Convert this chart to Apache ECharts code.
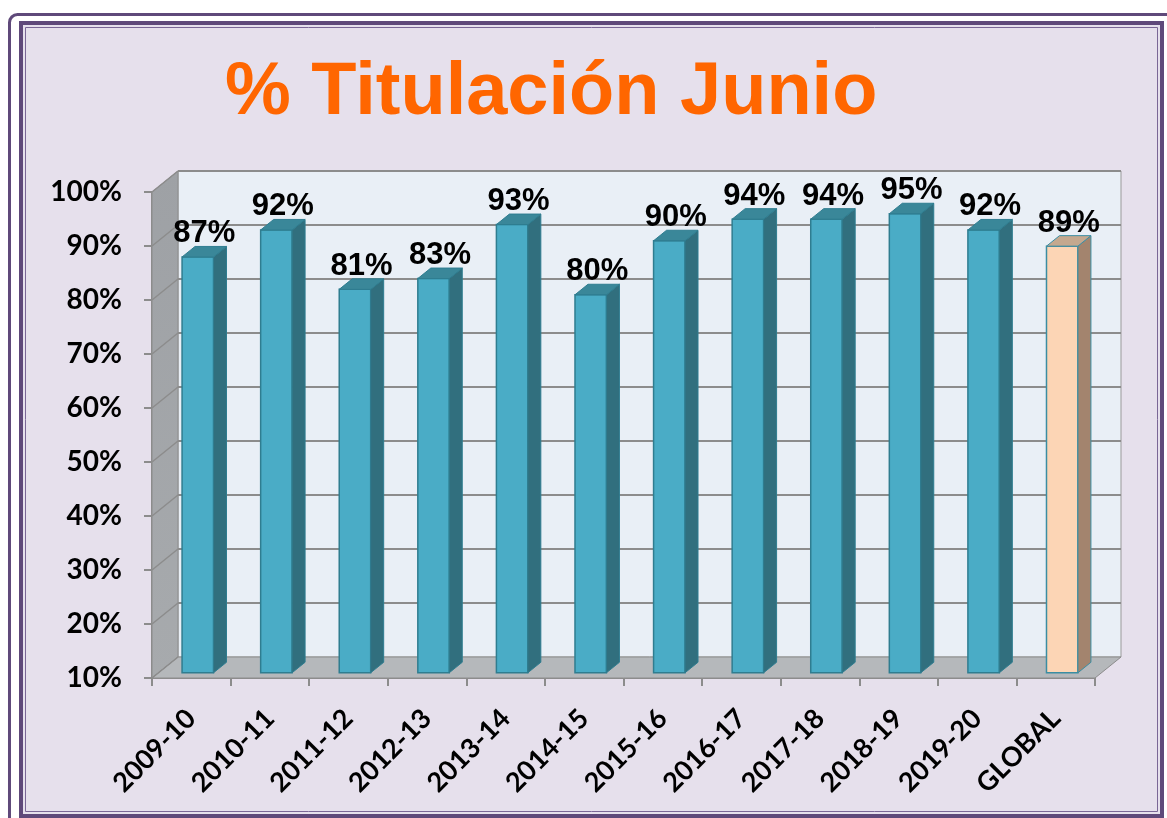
<!DOCTYPE html>
<html>
<head>
<meta charset="utf-8">
<title>% Titulación Junio</title>
<script src="https://cdn.jsdelivr.net/npm/echarts@6/dist/echarts.min.js"></script>
<style>
    html, body { margin: 0; padding: 0; background: #ffffff; }
    #chart { width: 1167px; height: 818px; }
</style>
</head>
<body>
<div id="chart"></div>
<script>
// datos
const cursos = ['2009-10', '2010-11', '2011-12', '2012-13', '2013-14', '2014-15', '2015-16', '2016-17', '2017-18', '2018-19', '2019-20', 'GLOBAL'];
const titulacion = [87, 92, 81, 83, 93, 80, 90, 94, 94, 95, 92, 89];
const ticksY = [10, 20, 30, 40, 50, 60, 70, 80, 90, 100];

// profundidad del efecto 3D
const DX = 26, DY = -21;

const chart = echarts.init(document.getElementById('chart'));

// paredes, suelo y rejilla
function renderWalls(params, api) {
    const cs = params.coordSys;
    const x0 = cs.x, x1 = cs.x + cs.width;
    const yb = api.coord([0, ticksY[0]])[1];
    const yt = api.coord([0, ticksY[ticksY.length - 1]])[1];
    const children = [];
    // pared del fondo
    children.push({
        type: 'rect',
        shape: {x: x0 + DX, y: yt + DY, width: x1 - x0, height: yb - yt},
        style: {fill: '#e9eff6', stroke: '#9a9a9a', lineWidth: 1}
    });
    // pared lateral
    children.push({
        type: 'polygon',
        shape: {points: [[x0, yt], [x0 + DX, yt + DY], [x0 + DX, yb + DY], [x0, yb]]},
        style: {
            fill: new echarts.graphic.LinearGradient(0, 0, 0, 1, [
                {offset: 0, color: '#9ea1a5'},
                {offset: 1, color: '#a7aaad'}
            ]),
            stroke: '#8c8c8c', lineWidth: 1
        }
    });
    // suelo
    children.push({
        type: 'polygon',
        shape: {points: [[x0, yb], [x0 + DX, yb + DY], [x1 + DX, yb + DY], [x1, yb]]},
        style: {fill: '#b5b8bb', stroke: '#8c8c8c', lineWidth: 1}
    });
    // líneas de división
    ticksY.forEach(function (v) {
        const y = api.coord([0, v])[1];
        if (v > ticksY[0]) {
            children.push({
                type: 'line',
                shape: {x1: x0 + DX, y1: y + DY, x2: x1 + DX, y2: y + DY},
                style: {stroke: '#8c8c8c', lineWidth: 2}
            });
        }
        children.push({
            type: 'line',
            shape: {x1: x0, y1: y, x2: x0 + DX, y2: y + DY},
            style: {stroke: '#8c8c8c', lineWidth: 1.5}
        });
    });
    return {type: 'group', children: children};
}

// columnas 3D
function renderBar(params, api) {
    const idx = api.value(0);
    const val = api.value(1);
    const p = api.coord([idx, val]);
    const base = api.coord([idx, ticksY[0]]);
    const w = api.size([1, 0])[0] * 0.4;
    const f = 0.25, d = 0.5;
    const xl = p[0] - w / 2 + f * DX, xr = xl + w;
    const top = p[1] + f * DY, bottom = base[1] + f * DY;
    const ddx = d * DX, ddy = d * DY;
    const isGlobal = cursos[idx] === 'GLOBAL';
    const cFront = isGlobal ? '#fcd5b5' : '#4aacc6';
    const cSide = isGlobal ? '#a3846e' : '#316f7e';
    const cTop = isGlobal ? '#c4a88f' : '#3a8799';
    const cLine = isGlobal ? '#3b8da2' : '#2f7d90';
    return {
        type: 'group',
        children: [
            {
                type: 'rect',
                shape: {x: xl, y: top, width: w, height: bottom - top},
                style: {fill: cFront, stroke: cLine, lineWidth: 1.5}
            },
            {
                type: 'polygon',
                shape: {points: [[xr, top], [xr + ddx, top + ddy], [xr + ddx, bottom + ddy], [xr, bottom]]},
                style: {fill: cSide, stroke: cLine, lineWidth: 1}
            },
            {
                type: 'polygon',
                shape: {points: [[xl, top], [xl + ddx, top + ddy], [xr + ddx, top + ddy], [xr, top]]},
                style: {fill: cTop, stroke: cLine, lineWidth: 1}
            },
            {
                type: 'text',
                style: {
                    text: val + '%',
                    x: xl + w / 2 + ddx / 2,
                    y: top + ddy + 3,
                    align: 'center',
                    verticalAlign: 'bottom',
                    fill: '#000000',
                    font: 'bold 31px "Liberation Sans", Arial, sans-serif'
                }
            }
        ]
    };
}

chart.setOption({
    backgroundColor: '#ffffff',
    animation: false,
    title: {
        text: '% Titulación Junio',
        left: 220,
        top: 52,
        textStyle: {
            fontFamily: '"Liberation Sans", Arial, sans-serif',
            fontSize: 74,
            fontWeight: 'bold',
            color: '#ff6600'
        }
    },
    graphic: [
        {
            type: 'rect',
            z: -10,
            shape: {x: 9.5, y: 14.5, width: 1180, height: 820, r: 8},
            style: {fill: '#ffffff', stroke: '#5f497a', lineWidth: 3}
        },
        {
            type: 'rect',
            z: -9,
            shape: {x: 21, y: 23, width: 1141, height: 793},
            style: {fill: '#e6e0ec', stroke: '#5f497a', lineWidth: 4}
        },
        {
            type: 'rect',
            z: -8,
            shape: {x: 25.5, y: 27.5, width: 1132, height: 784},
            style: {fill: 'none', stroke: '#7a6796', lineWidth: 1}
        }
    ],
    grid: {
        left: 152,
        right: 72,
        top: 192,
        bottom: 140
    },
    xAxis: {
        type: 'category',
        data: cursos,
        axisLine: {show: true, lineStyle: {color: '#8c8c8c', width: 2}},
        axisTick: {show: true, length: 8, lineStyle: {color: '#8c8c8c', width: 2}},
        axisLabel: {
            rotate: 45,
            margin: 36,
            color: '#000000',
            fontFamily: 'Lato, "Open Sans", sans-serif',
            fontWeight: 'bold',
            fontSize: 27
        },
        splitLine: {show: false}
    },
    yAxis: {
        type: 'value',
        min: 10,
        max: 100,
        interval: 10,
        axisLine: {show: true, lineStyle: {color: '#8c8c8c', width: 2}},
        axisTick: {show: true, length: 8, lineStyle: {color: '#8c8c8c', width: 2}},
        axisLabel: {
            formatter: '{value}%',
            margin: 30,
            color: '#000000',
            fontFamily: 'Lato, "Open Sans", sans-serif',
            fontWeight: 'bold',
            fontSize: 28
        },
        splitLine: {show: false}
    },
    series: [
        {
            type: 'custom',
            name: 'paredes',
            silent: true,
            z: 1,
            data: [0],
            renderItem: renderWalls
        },
        {
            type: 'custom',
            name: '% Titulación',
            z: 5,
            data: titulacion.map(function (v, i) { return [i, v]; }),
            encode: {x: 0, y: 1},
            renderItem: renderBar
        }
    ]
});
</script>
</body>
</html>
